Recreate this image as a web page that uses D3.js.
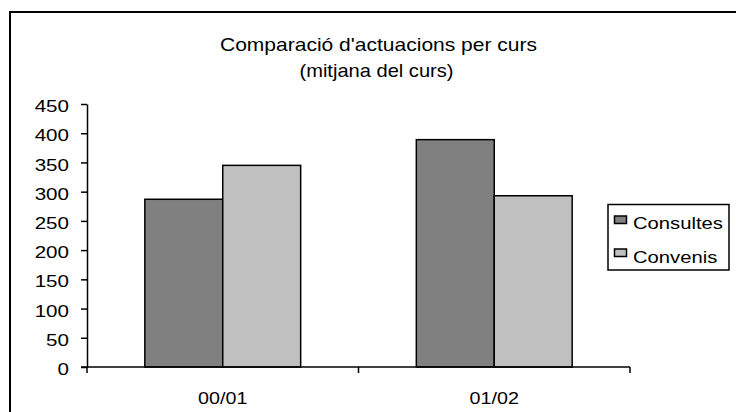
<!DOCTYPE html>
<html><head><meta charset="utf-8">
<script src="https://cdn.jsdelivr.net/npm/d3@7"></script>
<style>body{margin:0;background:#fff}svg text{font-family:"Liberation Sans",Arial,sans-serif;fill:#000}</style>
</head><body><svg id="c" width="736" height="412"></svg>
<script>
const categories = ["00/01", "01/02"];
const seriesNames = ["Consultes", "Convenis"];
const consultes = [287, 389];
const convenis = [345, 293];
const yTicks = [0, 50, 100, 150, 200, 250, 300, 350, 400, 450];
const titleLines = ["Comparació d'actuacions per curs", "(mitjana del curs)"];
const colors = ["#808080", "#C0C0C0"];

const STRETCH = 1.21;
function stretch(sel, f) {
  sel.each(function(){
    const w = this.getComputedTextLength();
    d3.select(this).attr("textLength", w*(f||STRETCH)).attr("lengthAdjust","spacingAndGlyphs");
  });
}

const svg = d3.select("#c");
svg.append("rect").attr("x",10).attr("y",12).attr("width",800).attr("height",500)
  .attr("fill","none").attr("stroke","#000").attr("stroke-width",2);

const x = d3.scaleBand().domain(categories).range([87, 630]);
const groupFrac = 0.574;
const y = d3.scaleLinear().domain([0, 450]).range([367, 104]);
const inner = d3.scaleBand().domain(seriesNames)
  .range([x.bandwidth()*(1-groupFrac)/2, x.bandwidth()*(1+groupFrac)/2]);

const data = categories.map((c,i)=>({cat:c, vals:[consultes[i], convenis[i]]}));
const g = svg.append("g");
data.forEach(d=>{
  g.selectAll(null).data(d.vals).enter().append("rect")
    .attr("x", (v,j)=>x(d.cat)+inner(seriesNames[j]))
    .attr("y", v=>y(v))
    .attr("width", inner.bandwidth())
    .attr("height", v=>y(0)-y(v))
    .attr("fill", (v,j)=>colors[j]).attr("stroke","#000").attr("stroke-width",1.5);
});

// y axis
const ya = svg.append("g").attr("transform","translate(87,0)")
  .call(d3.axisLeft(y).tickValues(yTicks).tickSize(6).tickPadding(12).tickSizeOuter(0));
ya.select(".domain").attr("stroke","#000").attr("stroke-width",1.5);
ya.selectAll(".tick line").attr("stroke","#000").attr("stroke-width",1.5);
ya.selectAll("text").style("font-size","17px").attr("font-family",null).attr("dy","0.45em");
stretch(ya.selectAll("text"));

// x axis
const xa = svg.append("g").attr("transform","translate(0,367)");
xa.append("line").attr("x1",x.range()[0]-6).attr("x2",x.range()[1]).attr("y1",0).attr("y2",0)
  .attr("stroke","#000").attr("stroke-width",1.5);
const bounds = [x(categories[0]), x(categories[1]), x(categories[1])+x.bandwidth()];
xa.selectAll("line.t").data(bounds).enter().append("line")
  .attr("x1",d=>d).attr("x2",d=>d).attr("y1",0).attr("y2",6)
  .attr("stroke","#000").attr("stroke-width",1.5);
const xl = xa.selectAll("text").data(categories).enter().append("text")
  .attr("x",d=>x(d)+x.bandwidth()/2).attr("y",36.5).attr("text-anchor","middle")
  .style("font-size","16.3px").text(d=>d);
stretch(xl);

// title
const tl = svg.selectAll("text.title").data(titleLines).enter().append("text")
  .attr("class","title")
  .attr("x",(d,i)=>i===0?378.5:376.5).attr("y",(d,i)=>i===0?50.7:76.7).attr("text-anchor","middle")
  .style("font-size","18.5px").text(d=>d);
tl.attr("textLength",(d,i)=>i===0?317:154).attr("lengthAdjust","spacingAndGlyphs");

// legend
const lg = svg.append("g");
lg.append("rect").attr("x",608).attr("y",204.5).attr("width",121).attr("height",65.5)
  .attr("fill","#fff").attr("stroke","#000").attr("stroke-width",1.5);
seriesNames.forEach((s,i)=>{
  lg.append("rect").attr("x",614.5).attr("y",216+i*33).attr("width",12).attr("height",7.5)
    .attr("fill",colors[i]).attr("stroke","#000").attr("stroke-width",1.5);
  const t = lg.append("text").attr("x",633).attr("y",229+i*33.5)
    .style("font-size","17px").text(s);
  stretch(t, 1.19);
});
</script></body></html>
